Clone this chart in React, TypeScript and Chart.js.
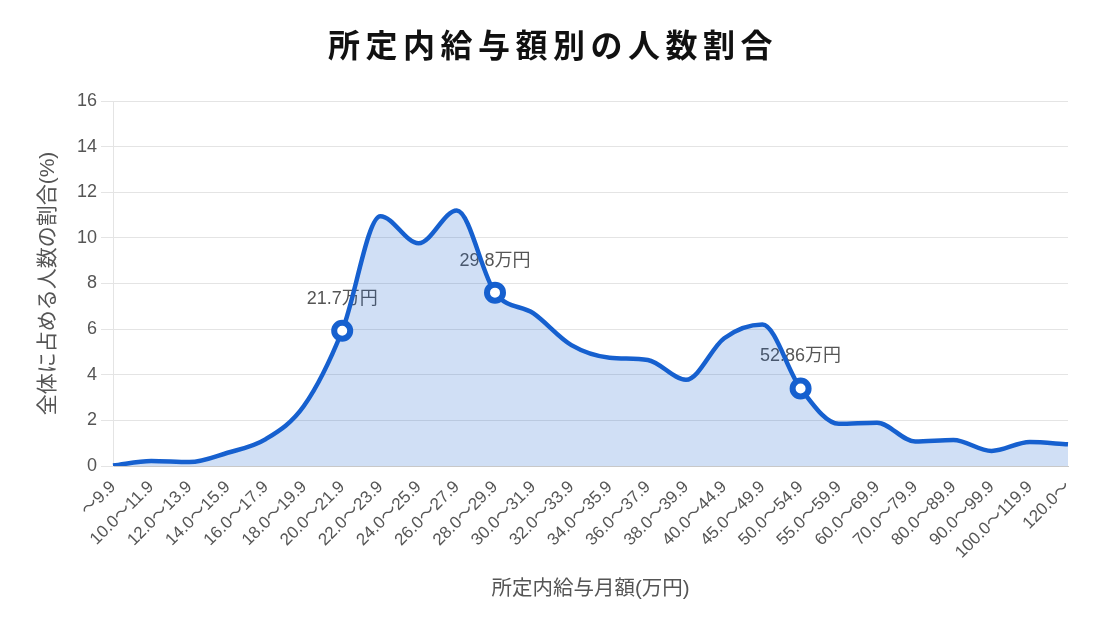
import React, { useEffect, useRef } from "react";
import { Chart, registerables } from "chart.js";

Chart.register(...registerables);

const categories = [
  "〜9.9", "10.0〜11.9", "12.0〜13.9", "14.0〜15.9", "16.0〜17.9", "18.0〜19.9",
  "20.0〜21.9", "22.0〜23.9", "24.0〜25.9", "26.0〜27.9", "28.0〜29.9", "30.0〜31.9",
  "32.0〜33.9", "34.0〜35.9", "36.0〜37.9", "38.0〜39.9", "40.0〜44.9", "45.0〜49.9",
  "50.0〜54.9", "55.0〜59.9", "60.0〜69.9", "70.0〜79.9", "80.0〜89.9", "90.0〜99.9",
  "100.0〜119.9", "120.0〜",
];

const shares = [
  0.02, 0.22, 0.17, 0.58, 1.18, 2.64,
  5.93, 10.95, 9.76, 11.2, 7.6, 6.7,
  5.3, 4.75, 4.65, 3.78, 5.6, 6.2,
  3.4, 1.85, 1.9, 1.07, 1.14, 0.66,
  1.05, 0.95,
];

const markedIndices = [6, 10, 18];
const markedLabels = ["21.7万円", "29.8万円", "52.86万円"];

const yTicks = [0, 2, 4, 6, 8, 10, 12, 14, 16];

const chartTitle = "所定内給与額別の人数割合";
const yTitle = "全体に占める人数の割合(%)";
const xTitle = "所定内給与月額(万円)";

const FONT = "'Liberation Sans', 'Noto Sans CJK JP', sans-serif";
const BLUE = "rgb(22, 96, 207)";

const labelPlugin = {
  id: "markedLabels",
  beforeDatasetsDraw(chart: any) {
    const meta = chart.getDatasetMeta(0);
    const ctx = chart.ctx;
    ctx.save();
    ctx.font = `18px ${FONT}`;
    ctx.fillStyle = "#555";
    ctx.textAlign = "center";
    ctx.textBaseline = "middle";
    markedIndices.forEach((idx, k) => {
      const el = meta.data[idx];
      if (!el) return;
      ctx.fillText(markedLabels[k], el.x, el.y - 32);
    });
    ctx.restore();
  },
};

const titlePlugin = {
  id: "spacedTitle",
  afterDraw(chart: any) {
    const ctx = chart.ctx;
    ctx.save();
    ctx.font = `bold 32px ${FONT}`;
    (ctx as any).letterSpacing = "5.5px";
    ctx.fillStyle = "#111";
    ctx.textAlign = "center";
    ctx.textBaseline = "middle";
    ctx.fillText(chartTitle, chart.width / 2 + 1, 48);
    ctx.restore();
  },
};

export default function App() {
  const ref = useRef<HTMLCanvasElement | null>(null);

  useEffect(() => {
    if (!ref.current) return;
    const radii = shares.map((_, i) => (markedIndices.includes(i) ? 8 : 0));
    const chart = new Chart(ref.current, {
      type: "line",
      data: {
        labels: categories,
        datasets: [
          {
            data: shares,
            borderColor: BLUE,
            borderWidth: 4.5,
            backgroundColor: "rgba(22, 96, 207, 0.2)",
            fill: "origin",
            cubicInterpolationMode: "monotone",
            pointRadius: radii,
            pointHoverRadius: radii,
            pointBackgroundColor: "#ffffff",
            pointBorderColor: BLUE,
            pointBorderWidth: 6,
          },
        ],
      },
      options: {
        responsive: false,
        animation: false,
        events: [],
        layout: { padding: { left: 32, right: 36, top: 101, bottom: 33 } },
        plugins: {
          legend: { display: false },
          tooltip: { enabled: false },
          title: { display: false },
        },
        scales: {
          x: {
            grid: { display: false, drawTicks: true, tickLength: 8 },
            border: { display: true, color: "#c8c8c8" },
            ticks: {
              autoSkip: false,
              maxRotation: 45,
              minRotation: 45,
              color: "#555",
              padding: 3,
              font: { family: FONT, size: 17 },
            },
            title: {
              display: true,
              text: xTitle,
              color: "#555",
              font: { family: FONT, size: 20.5 },
              padding: { top: 4, bottom: 4 },
            },
            afterFit(scale: any) {
              scale.height = 140;
            },
          },
          y: {
            min: 0,
            max: 16,
            afterBuildTicks(scale: any) {
              scale.ticks = yTicks.map((v) => ({ value: v }));
            },
            grid: { color: "#e4e4e4", tickLength: 12 },
            border: { display: true, color: "#e4e4e4" },
            ticks: {
              color: "#555",
              padding: 4,
              font: { family: FONT, size: 18 },
            },
            title: {
              display: true,
              text: yTitle,
              color: "#555",
              font: { family: FONT, size: 21 },
              padding: { top: 4, bottom: 4 },
            },
            afterFit(scale: any) {
              scale.width = 81;
            },
          },
        },
      },
      plugins: [labelPlugin, titlePlugin],
    } as any);
    return () => chart.destroy();
  }, []);

  return (
    <div style={{ position: "absolute", left: 0, top: 0, width: 1104, height: 639, background: "#fff" }}>
      <canvas ref={ref} width={1104} height={639} style={{ width: 1104, height: 639 }} />
    </div>
  );
}
